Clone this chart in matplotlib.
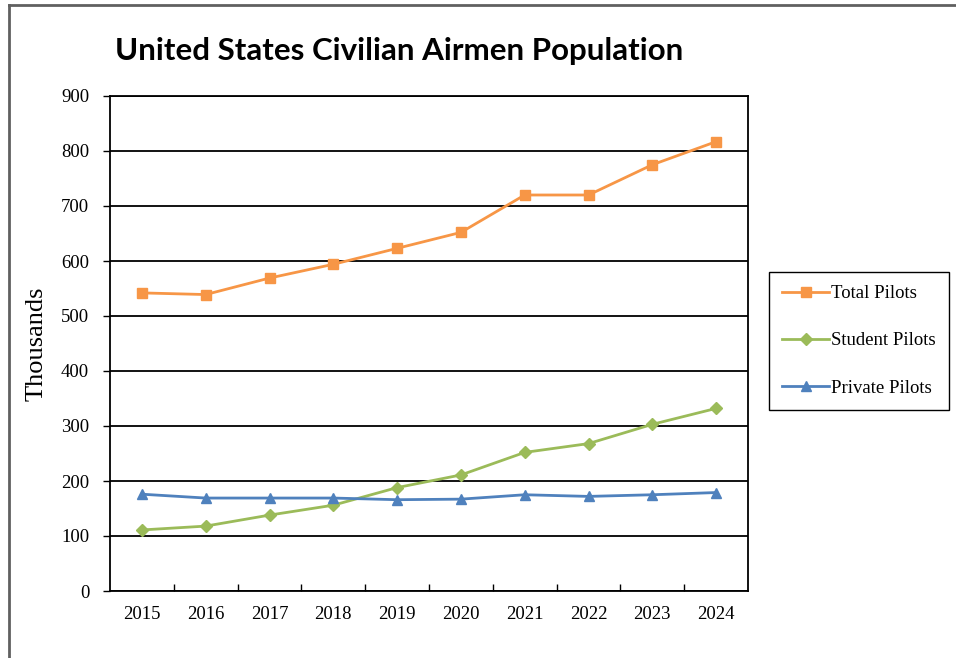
import numpy as np
import matplotlib.pyplot as plt
from matplotlib.lines import Line2D

# airmen counts in thousands
years = ['2015', '2016', '2017', '2018', '2019', '2020', '2021', '2022', '2023', '2024']
total_pilots = [542, 539, 569, 594, 623, 652, 720, 720, 775, 817]
student_pilots = [111, 118, 138, 156, 188, 211, 252, 268, 303, 332]
private_pilots = [176, 169, 169, 169, 166, 167, 175, 172, 175, 179]

orange = '#F79646'
green = '#9BBB59'
blue = '#4F81BD'

W, H = 956, 658
fig = plt.figure(figsize=(W / 100, H / 100), dpi=100)
ax = fig.add_axes([110 / W, 1 - 591 / H, 638 / W, 495 / H])

x = np.arange(len(years))
ax.plot(x, total_pilots, color=orange, lw=2, marker='s', ms=7, label='Total Pilots')
ax.plot(x, student_pilots, color=green, lw=2, marker='D', ms=6, label='Student Pilots')
ax.plot(x, private_pilots, color=blue, lw=2, marker='^', ms=7.5, label='Private Pilots')

ax.set_xlim(-0.5, 9.5)
ax.set_ylim(0, 900)
ax.set_yticks(range(0, 901, 100))
ax.yaxis.grid(True, color='black', lw=1.3)
ax.set_axisbelow(True)

ax.set_xticks(x)
ax.set_xticklabels(years)
ax.set_xticks(np.arange(0.5, 9.5, 1), minor=True)
ax.tick_params(axis='x', which='major', length=0, pad=11)
ax.tick_params(axis='x', which='minor', direction='in', length=5, width=1)
ax.tick_params(axis='y', direction='out', length=5, width=1, pad=10)
for lab in ax.get_xticklabels() + ax.get_yticklabels():
    lab.set_family('Liberation Serif')
    lab.set_fontsize(13.5)

for s in ax.spines.values():
    s.set_linewidth(1.3)

ax.set_ylabel('Thousands', family='Liberation Serif', fontsize=19, labelpad=10)

fig.text(115 / W, 1 - 51 / H, 'United States Civilian Airmen Population',
         family='Lato', weight='bold', fontsize=22.5, va='center', ha='left')

leg = fig.legend(loc='upper left', bbox_to_anchor=(769 / W, 1 - 272 / H),
                 prop={'family': 'Liberation Serif', 'size': 13.5},
                 fancybox=False, edgecolor='black', framealpha=1,
                 handlelength=2.5, handletextpad=0.1, labelspacing=1.6,
                 borderpad=0.7, borderaxespad=0)
leg.get_frame().set_linewidth(1)

# outer chart frame (top and left edges)
fig.add_artist(Line2D([9 / W, 1], [1 - 5 / H, 1 - 5 / H], color='#606060', lw=2))
fig.add_artist(Line2D([9 / W, 9 / W], [0, 1 - 5 / H], color='#606060', lw=2))

fig.savefig('out.png', dpi=100)
